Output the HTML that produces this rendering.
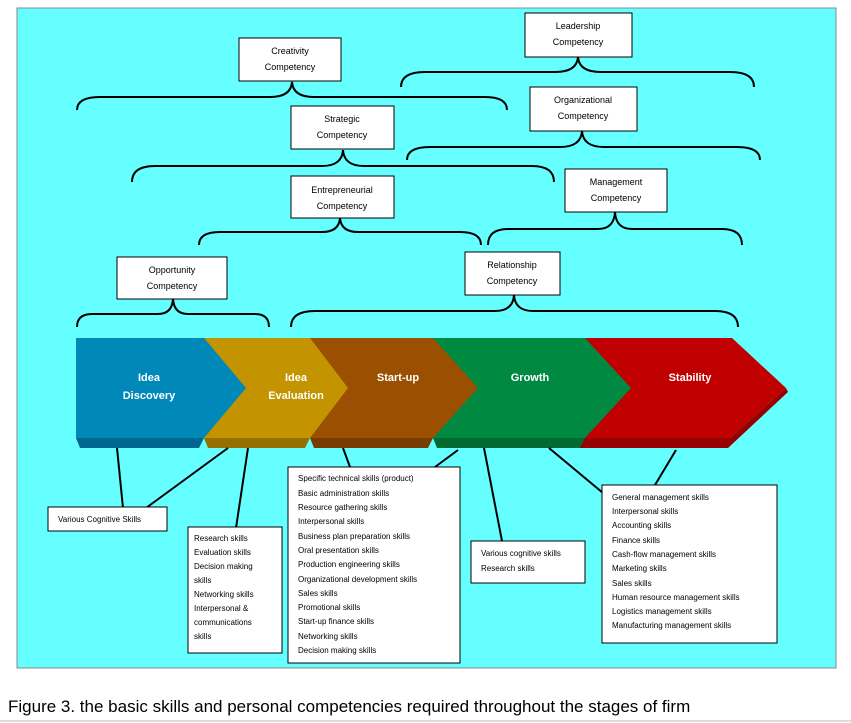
<!DOCTYPE html>
<html><head><meta charset="utf-8"><style>
html,body{margin:0;padding:0;background:#fff;width:851px;height:723px;overflow:hidden}
svg{display:block}
text{font-family:"Liberation Sans",sans-serif}
.b{fill:#fff;stroke:#000;stroke-width:1}
.t{font-size:9px;text-anchor:middle;fill:#000}
.s{font-size:8px;fill:#000}
.br{fill:none;stroke:#000;stroke-width:2}
.ln{stroke:#000;stroke-width:2}
.w{font-size:11px;font-weight:bold;fill:#fff;text-anchor:middle}
</style></head><body>
<svg width="851" height="723" viewBox="0 0 851 723">
<rect x="17" y="8" width="819" height="660" fill="#66ffff" stroke="#888" stroke-width="1"/>
<!-- braces -->
<path class="br" d="M77,110 Q77,97 100,97 L270,97 Q291,97 292,82 Q293,97 314,97 L485,97 Q507,97 507,110"/>
<path class="br" d="M401,87 Q401,72 425,72 L555,72 Q577,72 578,57 Q579,72 601,72 L730,72 Q754,72 754,87"/>
<path class="br" d="M407,160 Q407,147 430,147 L560,147 Q581,147 582,131 Q583,147 604,147 L737,147 Q760,147 760,160"/>
<path class="br" d="M132,182 Q132,166 155,166 L322,166 Q342,166 343,150 Q344,166 364,166 L532,166 Q554,166 554,182"/>
<path class="br" d="M199,245 Q199,232 220,232 L322,232 Q339,232 340,218 Q341,232 358,232 L460,232 Q481,232 481,245"/>
<path class="br" d="M488,245 Q488,229 508,229 L598,229 Q614,229 615,212 Q616,229 632,229 L722,229 Q742,229 742,245"/>
<path class="br" d="M291,327 Q291,311 315,311 L495,311 Q513,311 514,295 Q515,311 533,311 L715,311 Q738,311 738,327"/>
<path class="br" d="M77,327 Q77,314 92,314 L158,314 Q172,314 173,299 Q174,314 188,314 L255,314 Q269,314 269,327"/>
<!-- boxes -->
<rect class="b" x="239" y="38" width="102" height="43"/><text class="t" x="290" y="54">Creativity</text><text class="t" x="290" y="70">Competency</text>
<rect class="b" x="525" y="13" width="107" height="44"/><text class="t" x="578" y="29">Leadership</text><text class="t" x="578" y="45">Competency</text>
<rect class="b" x="530" y="87" width="107" height="44"/><text class="t" x="583" y="103">Organizational</text><text class="t" x="583" y="119">Competency</text>
<rect class="b" x="291" y="106" width="103" height="43"/><text class="t" x="342" y="122">Strategic</text><text class="t" x="342" y="138">Competency</text>
<rect class="b" x="291" y="176" width="103" height="42"/><text class="t" x="342" y="193">Entrepreneurial</text><text class="t" x="342" y="209">Competency</text>
<rect class="b" x="565" y="169" width="102" height="43"/><text class="t" x="616" y="185">Management</text><text class="t" x="616" y="201">Competency</text>
<rect class="b" x="465" y="252" width="95" height="43"/><text class="t" x="512" y="268">Relationship</text><text class="t" x="512" y="284">Competency</text>
<rect class="b" x="117" y="257" width="110" height="42"/><text class="t" x="172" y="273">Opportunity</text><text class="t" x="172" y="289">Competency</text>
<!-- chevrons -->
<polygon points="576,338 732,338 786,388 730,438 576,438" fill="#c00000"/>
<polygon points="576,438 730,438 786,388 788,392 728,448 580,448" fill="#950000"/>
<polygon points="433,338 585,338 631,388 585,438 433,438" fill="#008a41"/>
<polygon points="433,438 585,438 580,448 437,448" fill="#006a32"/>
<polygon points="310,338 433,338 478,388 433,438 310,438" fill="#9a5000"/>
<polygon points="310,438 433,438 428,448 314,448" fill="#783c00"/>
<polygon points="204,338 310,338 348,388 310,438 204,438" fill="#c39300"/>
<polygon points="204,438 310,438 305,448 208,448" fill="#957000"/>
<polygon points="76,338 204,338 246,388 204,438 76,438" fill="#0088b8"/>
<polygon points="76,438 204,438 199,448 80,448" fill="#00688e"/>
<text class="w" x="149" y="381">Idea</text><text class="w" x="149" y="399">Discovery</text>
<text class="w" x="296" y="381">Idea</text><text class="w" x="296" y="399">Evaluation</text>
<text class="w" x="398" y="381">Start-up</text>
<text class="w" x="530" y="381">Growth</text>
<text class="w" x="690" y="381">Stability</text>
<!-- connectors -->
<line class="ln" x1="117" y1="448" x2="123" y2="508"/>
<line class="ln" x1="228" y1="448" x2="146" y2="508"/>
<line class="ln" x1="248" y1="448" x2="236" y2="528"/>
<line class="ln" x1="343" y1="448" x2="350" y2="467"/>
<line class="ln" x1="458" y1="450" x2="435" y2="467"/>
<line class="ln" x1="484" y1="448" x2="502" y2="541"/>
<line class="ln" x1="549" y1="448" x2="603" y2="493"/>
<line class="ln" x1="676" y1="450" x2="655" y2="485"/>
<!-- skill boxes -->
<rect class="b" x="48" y="507" width="119" height="24"/><text class="s" x="58" y="522">Various Cognitive Skills</text>
<rect class="b" x="188" y="527" width="94" height="126"/>
<g class="s"><text x="194" y="541">Research skills</text><text x="194" y="555">Evaluation skills</text><text x="194" y="569">Decision making</text><text x="194" y="583">skills</text><text x="194" y="597">Networking skills</text><text x="194" y="611">Interpersonal &amp;</text><text x="194" y="625">communications</text><text x="194" y="639">skills</text></g>
<rect class="b" x="288" y="467" width="172" height="196"/>
<g class="s"><text x="298" y="481">Specific technical skills (product)</text><text x="298" y="496">Basic administration skills</text><text x="298" y="510">Resource gathering skills</text><text x="298" y="524">Interpersonal skills</text><text x="298" y="539">Business plan preparation skills</text><text x="298" y="553">Oral presentation skills</text><text x="298" y="567">Production engineering skills</text><text x="298" y="582">Organizational development skills</text><text x="298" y="596">Sales skills</text><text x="298" y="610">Promotional skills</text><text x="298" y="624">Start-up finance skills</text><text x="298" y="639">Networking skills</text><text x="298" y="653">Decision making skills</text></g>
<rect class="b" x="471" y="541" width="114" height="42"/>
<g class="s"><text x="481" y="556">Various cognitive skills</text><text x="481" y="571">Research skills</text></g>
<rect class="b" x="602" y="485" width="175" height="158"/>
<g class="s"><text x="612" y="500">General management  skills</text><text x="612" y="514">Interpersonal skills</text><text x="612" y="528">Accounting skills</text><text x="612" y="543">Finance skills</text><text x="612" y="557">Cash-flow management   skills</text><text x="612" y="571">Marketing  skills</text><text x="612" y="586">Sales  skills</text><text x="612" y="600">Human resource management   skills</text><text x="612" y="614">Logistics management   skills</text><text x="612" y="628">Manufacturing management skills</text></g>
<text x="8" y="712" style="font-size:17px;fill:#000">Figure 3. the basic skills and personal competencies required throughout the stages of firm</text>
<line x1="0" y1="721" x2="851" y2="721" stroke="#bbb" stroke-width="1"/>
</svg>
</body></html>
